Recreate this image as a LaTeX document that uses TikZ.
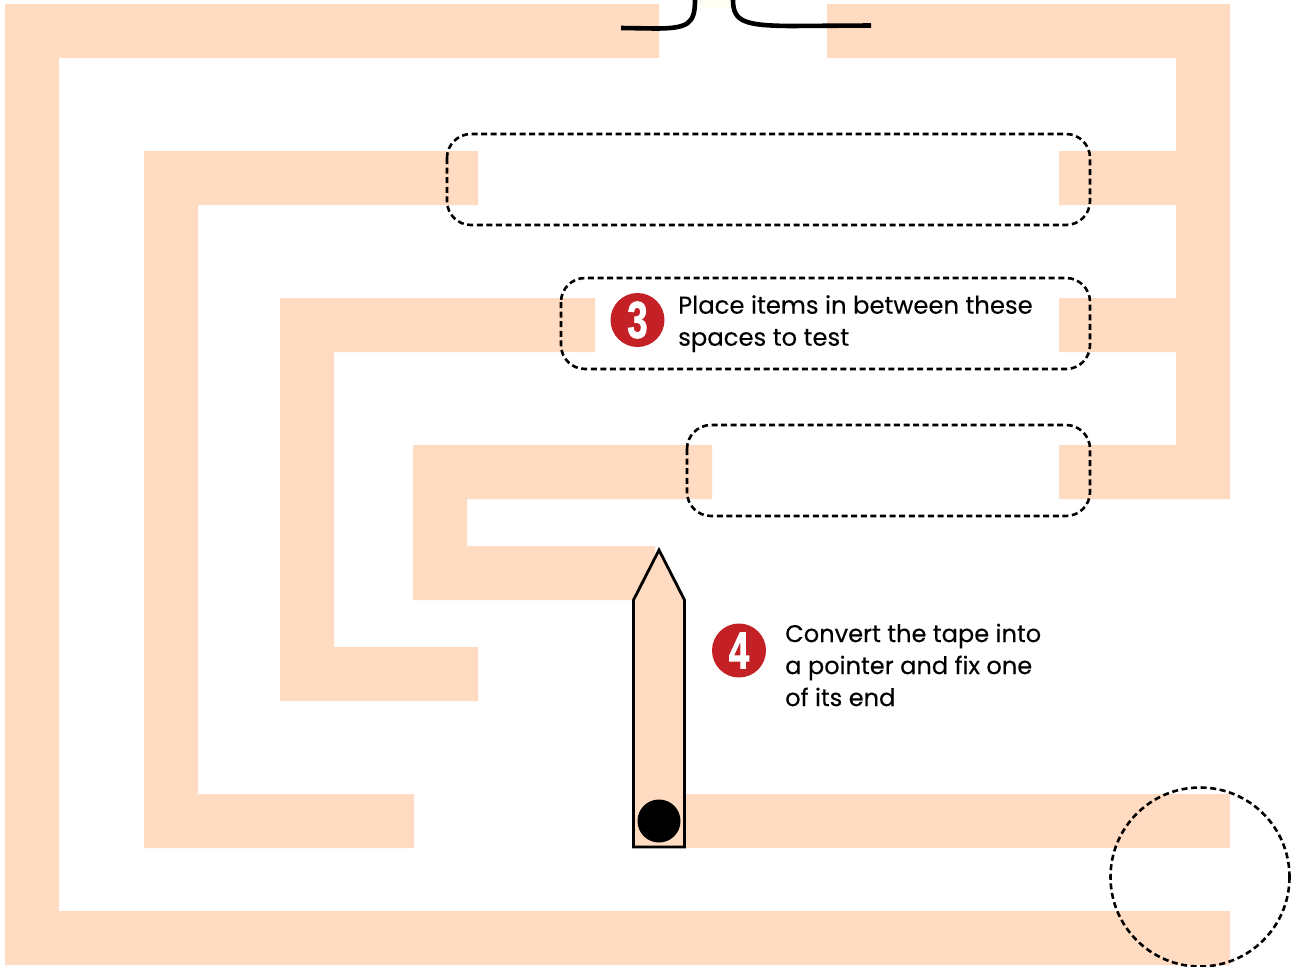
\documentclass[tikz,border=0pt]{standalone}
\usepackage{fontspec}
\setmainfont{Poppins}[FakeBold=0.25]
\newfontfamily\numfont{Liberation Sans}[FakeStretch=0.7,FakeBold=1.5]
\definecolor{tape}{HTML}{FFDBC1}
\definecolor{badge}{HTML}{C42127}
\tikzset{
  tapefill/.style={fill=tape,draw=none},
  dashbox/.style={draw=black,line width=2.6pt,dash pattern=on 6pt off 3.6pt,rounded corners=24pt},
  wire/.style={draw=black,line width=4.6pt},
  badgedot/.style={circle,fill=badge,minimum size=54pt,inner sep=0pt,text=white,font=\numfont\bfseries\fontsize{52}{52}\selectfont},
  note/.style={anchor=north west,align=left,inner sep=0pt,font=\fontsize{24.3}{32}\selectfont},
  noteb/.style={note,font=\fontsize{24.1}{32}\selectfont}
}
\begin{document}
\begin{tikzpicture}[x=1pt,y=-1pt]
\useasboundingbox (0,0) rectangle (1300,966);
\fill[white] (0,0) rectangle (1300,966);
\fill[tapefill] (659,4)--(5,4)--(5,965)--(1230,965)--(1230,911)--(59,911)--(59,58)--(659,58)--cycle;
\fill[tapefill] (827,4)--(1230,4)--(1230,499)--(1059,499)--(1059,445)--(1176,445)--(1176,352)--(1059,352)--(1059,298)--(1176,298)--(1176,205)--(1059,205)--(1059,151)--(1176,151)--(1176,58)--(827,58)--cycle;
\fill[tapefill] (478,151)--(144,151)--(144,848)--(414,848)--(414,794)--(198,794)--(198,205)--(478,205)--cycle;
\fill[tapefill] (595,298)--(280,298)--(280,701)--(478,701)--(478,647)--(334,647)--(334,352)--(595,352)--cycle;
\fill[tapefill] (712,445)--(413,445)--(413,600)--(655,600)--(655,546)--(467,546)--(467,499)--(712,499)--cycle;
\fill[tapefill] (685,794)--(1230,794)--(1230,848)--(685,848)--cycle;
\fill[color=yellow!4!white] (697,0) rectangle (733,8);
\draw[wire] (621,28) -- (655,28.5) .. controls (688,28.5) and (695,24) .. (695,0);
\draw[wire] (733,0) .. controls (733,22) and (745,25.5) .. (790,26) -- (871,25.5);
\draw[fill=tape,draw=black,line width=2.8pt,line join=miter] (633.5,847) -- (633.5,600) -- (659,550) -- (684.5,600) -- (684.5,847) -- cycle;
\fill[black] (659,821) circle (21.5);
\draw[dashbox] (447,134) rectangle (1090,225);
\draw[dashbox] (561,278) rectangle (1090,369);
\draw[dashbox] (687,425) rectangle (1090,516);
\draw[draw=black,line width=2.6pt,dash pattern=on 6pt off 3.6pt] (1200,877) circle (89.5);
\node[badgedot] (three) at (637.5,320) {3};
\node[badgedot] (four) at (739,650.5) {4};
\node[note] (notea) at (678,295) {Place items in between these\\spaces to test};
\node[noteb] (noteb) at (785,623.5) {Convert the tape into\\a pointer and fix one\\of its end};
\end{tikzpicture}
\end{document}
